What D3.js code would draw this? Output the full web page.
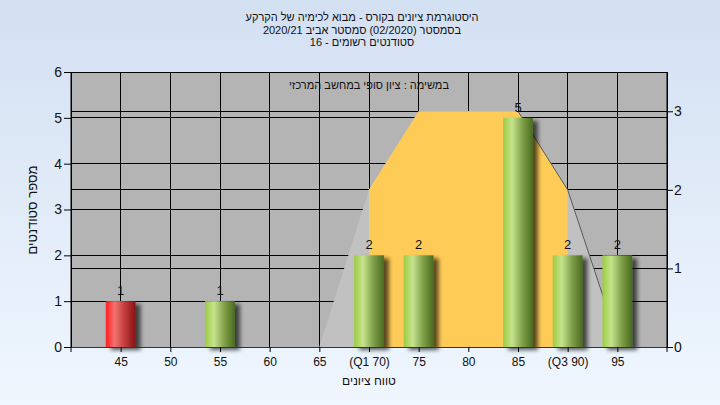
<!DOCTYPE html>
<html><head><meta charset="utf-8">
<script src="https://cdn.jsdelivr.net/npm/d3@7/dist/d3.min.js"></script>
<style>
body{margin:0;overflow:hidden;}
svg{display:block;font-family:"Liberation Sans",Arial,sans-serif;}
</style>
</head><body>
<svg id="c" width="720" height="405"></svg>
<script>
// ---------- data ----------
const titleLines = [
  "היסטוגרמת ציונים בקורס - מבוא לכימיה של הקרקע",
  "בסמסטר  (02/2020)  סמסטר אביב 2020/21",
  "סטודנטים רשומים - 16"
];
const subtitle = "במשימה : ציון סופי במחשב המרכזי";
const xTitle = "טווח ציונים";
const yTitle = "מספר סטודנטים";
const categories = [45, 50, 55, 60, 65, 70, 75, 80, 85, 90, 95];
const tickLabels = ["45", "50", "55", "60", "65", "(Q1 70)", "75", "80", "85", "(Q3 90)", "95"];
const counts = [1, 0, 1, 0, 0, 2, 2, 0, 5, 2, 2];
const barKind = ["fail", "pass", "pass", "pass", "pass", "pass", "pass", "pass", "pass", "pass", "pass"];
const curveX = [65, 70, 75, 80, 85, 90, 95];
const curveY = [0, 2, 3, 3, 3, 2, 0.1];
const q1 = 70, q3 = 90;
const leftTicks = [0, 1, 2, 3, 4, 5, 6];
const rightTicks = [0, 1, 2, 3];

// ---------- layout ----------
const W = 720, H = 405;
const L = 71, R = 667, T = 72, B = 347;
const svg = d3.select("#c");
const x = d3.scaleLinear().domain([40, 100]).range([L, R]);
const yL = d3.scaleLinear().domain([0, 6]).range([B, T]);
const yR = d3.scaleLinear().domain([0, 3.5]).range([B, T]);

const defs = svg.append("defs");
const bg = defs.append("linearGradient").attr("id", "bg").attr("x1", 0).attr("y1", 0).attr("x2", 0).attr("y2", 1);
bg.append("stop").attr("offset", "0%").attr("stop-color", "#d3e0f2");
bg.append("stop").attr("offset", "100%").attr("stop-color", "#eff6fe");

function cyl(id, c0, c1, c2, c3) {
  const g = defs.append("linearGradient").attr("id", id).attr("x1", 0).attr("y1", 0).attr("x2", 1).attr("y2", 0);
  g.append("stop").attr("offset", "0%").attr("stop-color", c0);
  g.append("stop").attr("offset", "30%").attr("stop-color", c1);
  g.append("stop").attr("offset", "65%").attr("stop-color", c2);
  g.append("stop").attr("offset", "100%").attr("stop-color", c3);
}
cyl("g_pass", "#9ccc42", "#c6e38e", "#7f9f48", "#4a6a20");
cyl("g_fail", "#ff1e1e", "#f07272", "#c03a3a", "#861414");

const f = defs.append("filter").attr("id", "sh").attr("x", "-20%").attr("y", "-20%").attr("width", "160%").attr("height", "140%");
f.append("feGaussianBlur").attr("in", "SourceAlpha").attr("stdDeviation", 2).attr("result", "b");
f.append("feOffset").attr("in", "b").attr("dx", 5).attr("dy", 3).attr("result", "o");
f.append("feComponentTransfer").attr("in", "o").attr("result", "oa")
  .append("feFuncA").attr("type", "linear").attr("slope", 0.65);
const fm = f.append("feMerge");
fm.append("feMergeNode").attr("in", "oa");
fm.append("feMergeNode").attr("in", "SourceGraphic");

svg.append("rect").attr("width", W).attr("height", H).attr("fill", "url(#bg)");

// title
const tt = svg.append("g").attr("font-size", 11).attr("fill", "#111").attr("text-anchor", "middle");
titleLines.forEach((s, i) => tt.append("text").attr("x", 362).attr("y", 21 + i * 12.7).text(s));

// plot background
svg.append("rect").attr("x", L).attr("y", T).attr("width", R - L).attr("height", B - T).attr("fill", "#b4b4b4");

// gridlines
const grid = svg.append("g").attr("stroke", "#000").attr("stroke-width", 1).attr("shape-rendering", "crispEdges");
categories.forEach(c => grid.append("line").attr("x1", x(c)).attr("x2", x(c)).attr("y1", T).attr("y2", B));
leftTicks.forEach(v => grid.append("line").attr("x1", L).attr("x2", R).attr("y1", yL(v)).attr("y2", yL(v)));
rightTicks.forEach(v => grid.append("line").attr("x1", L).attr("x2", R).attr("y1", yR(v)).attr("y2", yR(v)));

// curve areas
const pts = curveX.map((v, i) => [v, curveY[i]]);
const area = d3.area().x(d => x(d[0])).y0(yR(0)).y1(d => yR(d[1]));
svg.append("path").attr("d", area(pts)).attr("fill", "#c1c1c1");
svg.append("path").attr("d", area(pts.filter(d => d[0] >= q1 && d[0] <= q3))).attr("fill", "#fecb57");
svg.append("path").attr("d", d3.line().x(d => x(d[0])).y(d => yR(d[1]))(pts.slice(4)))
  .attr("fill", "none").attr("stroke", "#5a5a5a").attr("stroke-width", 1);

// subtitle
svg.append("text").attr("x", 369).attr("y", 89).attr("font-size", 11).attr("text-anchor", "middle").attr("fill", "#111").text(subtitle);

// bars
const bw = 3;
const bars = svg.append("g");
categories.forEach((c, i) => {
  if (counts[i] <= 0) return;
  bars.append("rect")
    .attr("x", x(c - bw / 2)).attr("width", x(c + bw / 2) - x(c - bw / 2))
    .attr("y", yL(counts[i])).attr("height", yL(0) - yL(counts[i]))
    .attr("fill", barKind[i] === "fail" ? "url(#g_fail)" : "url(#g_pass)")
    .attr("filter", "url(#sh)");
  bars.append("text").attr("x", x(c)).attr("y", yL(counts[i]) - 6)
    .attr("text-anchor", "middle").attr("font-size", 13).attr("fill", "#111").text(counts[i]);
});

// frame
svg.append("rect").attr("x", L).attr("y", T).attr("width", R - L).attr("height", B - T)
  .attr("fill", "none").attr("stroke", "#000").attr("shape-rendering", "crispEdges");

// axes
const ax = d3.axisBottom(x).tickValues(categories).tickSize(5).tickSizeOuter(0)
  .tickFormat((d, i) => tickLabels[i]);
const gx = svg.append("g").attr("transform", `translate(0,${B})`).call(ax);
gx.select(".domain").attr("stroke", "#333");
gx.selectAll("text").attr("font-size", 12).attr("fill", "#111").attr("font-family", "Liberation Sans, Arial").attr("dy", "0.9em");

const gl = svg.append("g").attr("transform", `translate(${L},0)`)
  .call(d3.axisLeft(yL).tickValues(leftTicks).tickSize(7).tickSizeOuter(0).tickFormat(d3.format("d")));
gl.selectAll("text").attr("font-size", 14).attr("fill", "#111").attr("font-family", "Liberation Sans, Arial").attr("x", -9);
gl.select(".domain").attr("d", `M0,${T}V${B + 5}`);

const gr = svg.append("g").attr("transform", `translate(${R},0)`)
  .call(d3.axisRight(yR).tickValues(rightTicks).tickSize(6).tickSizeOuter(0).tickFormat(d3.format("d")));
gr.selectAll("text").attr("font-size", 14).attr("fill", "#111").attr("font-family", "Liberation Sans, Arial").attr("x", 7);
gr.select(".domain").attr("d", `M0,${T}V${B + 5}`);

// axis titles
svg.append("text").attr("x", 369).attr("y", 385).attr("font-size", 12).attr("text-anchor", "middle").attr("fill", "#111").text(xTitle);
svg.append("text").attr("transform", "translate(37,210) rotate(-90)").attr("font-size", 13)
  .attr("text-anchor", "middle").attr("fill", "#111").text(yTitle);
</script>
</body></html>
